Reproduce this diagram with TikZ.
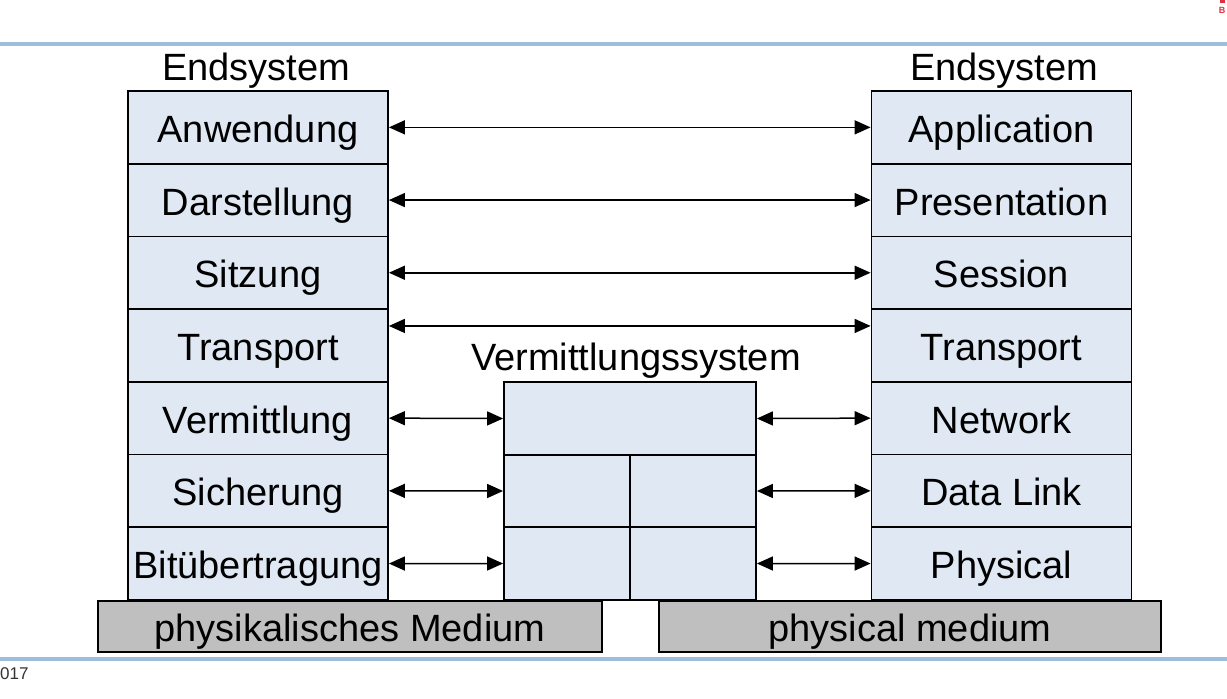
\documentclass[tikz,border=0pt]{standalone}
\usepackage{fontspec}
\setmainfont{Liberation Sans}
\usetikzlibrary{arrows.meta}
\definecolor{layerfill}{HTML}{DFE8F3}
\definecolor{mediumfill}{HTML}{BFBFBF}
\definecolor{rulecol}{HTML}{9DBDDB}
\definecolor{logored}{HTML}{E0303F}
\definecolor{foottext}{HTML}{333333}
\tikzset{
  layer/.style={draw, line width=1.8pt, fill=layerfill, inner sep=0pt,
    minimum width=260pt, minimum height=72.7pt,
    font=\fontsize{38}{40}\selectfont, text height=30pt, text depth=0pt},
  cell/.style={draw, line width=1.8pt, fill=layerfill, inner sep=0pt},
  medium/.style={draw, line width=1.8pt, fill=mediumfill, inner sep=0pt,
    minimum height=51pt, font=\fontsize{38}{40}\selectfont,
    text height=30pt, text depth=0pt},
  title/.style={inner sep=0pt, font=\fontsize{38}{40}\selectfont,
    text height=30pt, text depth=0pt},
  link/.style={line width=1.5pt, {Triangle[length=16pt,width=14pt]}-{Triangle[length=16pt,width=14pt]}},
}
\begin{document}
\begin{tikzpicture}[x=1pt, y=-1pt]
\useasboundingbox (0,0) rectangle (1227,699);
\clip (0,0) rectangle (1227,699);

% header and footer rules
\fill[rulecol] (0,41.5) rectangle (1227,45.5);
\fill[rulecol] (0,656.5) rectangle (1227,661);

% corner marks
\node[inner sep=0pt, text=logored, font=\fontsize{9}{9}\bfseries\selectfont] (logo) at (1222,10) {B};
\fill[logored] (1220,0) rectangle (1225,3);
\node[inner sep=0pt, anchor=west, text=foottext, font=\fontsize{17}{17}\selectfont] (year) at (0,673.5) {017};

% titles
\node[title] (tL) at (256,65) {Endsystem};
\node[title] (tR) at (1004,65) {Endsystem};
\node[title] (tM) at (636,355) {Vermittlungssystem};

% left end system
\node[layer] (L1) at (258,127.35) {Anwendung};
\node[layer] (L2) at (258,200.05) {Darstellung};
\node[layer] (L3) at (258,272.75) {Sitzung};
\node[layer] (L4) at (258,345.45) {Transport};
\node[layer] (L5) at (258,418.15) {Vermittlung};
\node[layer] (L6) at (258,490.85) {Sicherung};
\node[layer] (L7) at (258,563.55) {Bitübertragung};

% right end system
\node[layer] (R1) at (1001.5,127.35) {Application};
\node[layer] (R2) at (1001.5,200.05) {Presentation};
\node[layer] (R3) at (1001.5,272.75) {Session};
\node[layer] (R4) at (1001.5,345.45) {Transport};
\node[layer] (R5) at (1001.5,418.15) {Network};
\node[layer] (R6) at (1001.5,490.85) {Data Link};
\node[layer] (R7) at (1001.5,563.55) {Physical};

% relay system
\node[cell, minimum width=252pt, minimum height=73pt] (M1) at (630,418.5) {};
\node[cell, minimum width=126pt, minimum height=72pt] (M2a) at (567,491) {};
\node[cell, minimum width=126pt, minimum height=72pt] (M2b) at (693,491) {};
\node[cell, minimum width=126pt, minimum height=73pt] (M3a) at (567,563.5) {};
\node[cell, minimum width=126pt, minimum height=73pt] (M3b) at (693,563.5) {};

% physical media
\node[medium, minimum width=504pt] (PL) at (350,626.5) {physikalisches Medium};
\node[medium, minimum width=502pt] (PR) at (910,626.5) {physical medium};

% peer connections
\draw[link] (L1.east) -- (R1.west);
\draw[link] (L2.east) -- (R2.west);
\draw[link] (L3.east) -- (R3.west);
\draw[link] ([yshift=19.5pt]L4.east) -- ([yshift=19.5pt]R4.west);
\draw[link] (L5.east) -- (M1.west);
\draw[link] (M1.east) -- (R5.west);
\draw[link] (L6.east) -- (M2a.west);
\draw[link] (M2b.east) -- (R6.west);
\draw[link] (L7.east) -- (M3a.west);
\draw[link] (M3b.east) -- (R7.west);
\end{tikzpicture}
\end{document}
